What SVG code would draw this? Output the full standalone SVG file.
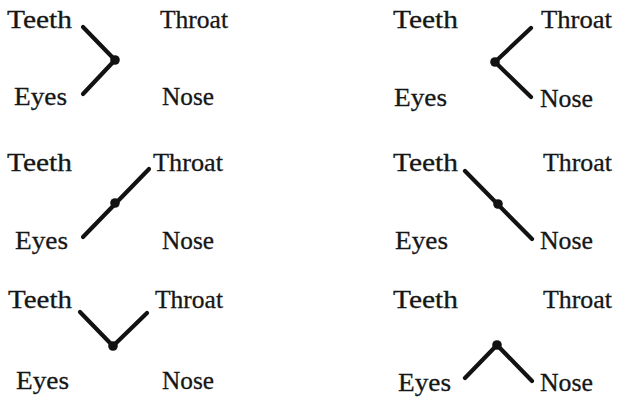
<svg xmlns="http://www.w3.org/2000/svg" width="620" height="399" viewBox="0 0 620 399">
<style>
.t{font-size:26px;fill:#161616;stroke:#161616;stroke-width:0.3}
.c{stroke:#121212;stroke-width:4.2;stroke-linecap:round;stroke-linejoin:round;fill:none}
.d{fill:#121212}
</style>
<rect width="620" height="399" fill="#fff"/>
<g font-family="Liberation Serif">
<g id="panel1">
<g id="p1-teeth"><text class="t" x="7" y="28" textLength="65" lengthAdjust="spacingAndGlyphs">Teeth</text></g>
<g id="p1-throat"><text class="t" x="160" y="28" textLength="68" lengthAdjust="spacingAndGlyphs">Throat</text></g>
<g id="p1-eyes"><text class="t" x="14" y="105" textLength="53" lengthAdjust="spacingAndGlyphs">Eyes</text></g>
<g id="p1-nose"><text class="t" x="162" y="105" textLength="52" lengthAdjust="spacingAndGlyphs">Nose</text></g>
<g id="p1-joint"><circle class="d" cx="115" cy="60" r="4.8"/></g>
</g>
<g id="panel2">
<g id="p2-teeth"><text class="t" x="393" y="28" textLength="65" lengthAdjust="spacingAndGlyphs">Teeth</text></g>
<g id="p2-throat"><text class="t" x="541" y="28" textLength="71" lengthAdjust="spacingAndGlyphs">Throat</text></g>
<g id="p2-eyes"><text class="t" x="394" y="106" textLength="53" lengthAdjust="spacingAndGlyphs">Eyes</text></g>
<g id="p2-nose"><text class="t" x="540" y="107" textLength="53" lengthAdjust="spacingAndGlyphs">Nose</text></g>
<g id="p2-joint"><circle class="d" cx="495" cy="62" r="4.8"/></g>
</g>
<g id="panel3">
<g id="p3-teeth"><text class="t" x="7" y="171" textLength="65" lengthAdjust="spacingAndGlyphs">Teeth</text></g>
<g id="p3-throat"><text class="t" x="153" y="171" textLength="70" lengthAdjust="spacingAndGlyphs">Throat</text></g>
<g id="p3-eyes"><text class="t" x="15" y="249" textLength="53" lengthAdjust="spacingAndGlyphs">Eyes</text></g>
<g id="p3-nose"><text class="t" x="162" y="249" textLength="52" lengthAdjust="spacingAndGlyphs">Nose</text></g>
<g id="p3-joint"><circle class="d" cx="115" cy="203" r="4.8"/></g>
</g>
<g id="panel4">
<g id="p4-teeth"><text class="t" x="393" y="171" textLength="65" lengthAdjust="spacingAndGlyphs">Teeth</text></g>
<g id="p4-throat"><text class="t" x="543" y="171" textLength="69" lengthAdjust="spacingAndGlyphs">Throat</text></g>
<g id="p4-eyes"><text class="t" x="395" y="249" textLength="53" lengthAdjust="spacingAndGlyphs">Eyes</text></g>
<g id="p4-nose"><text class="t" x="540" y="249" textLength="53" lengthAdjust="spacingAndGlyphs">Nose</text></g>
<g id="p4-joint"><circle class="d" cx="498" cy="204" r="4.8"/></g>
</g>
<g id="panel5">
<g id="p5-teeth"><text class="t" x="8" y="308" textLength="64" lengthAdjust="spacingAndGlyphs">Teeth</text></g>
<g id="p5-throat"><text class="t" x="155" y="308" textLength="68" lengthAdjust="spacingAndGlyphs">Throat</text></g>
<g id="p5-eyes"><text class="t" x="16" y="389" textLength="53" lengthAdjust="spacingAndGlyphs">Eyes</text></g>
<g id="p5-nose"><text class="t" x="162" y="389" textLength="52" lengthAdjust="spacingAndGlyphs">Nose</text></g>
<g id="p5-joint"><circle class="d" cx="113" cy="346" r="4.8"/></g>
</g>
<g id="panel6">
<g id="p6-teeth"><text class="t" x="393" y="308" textLength="65" lengthAdjust="spacingAndGlyphs">Teeth</text></g>
<g id="p6-throat"><text class="t" x="543" y="308" textLength="69" lengthAdjust="spacingAndGlyphs">Throat</text></g>
<g id="p6-eyes"><text class="t" x="398" y="391" textLength="53" lengthAdjust="spacingAndGlyphs">Eyes</text></g>
<g id="p6-nose"><text class="t" x="540" y="391" textLength="53" lengthAdjust="spacingAndGlyphs">Nose</text></g>
<g id="p6-joint"><circle class="d" cx="497" cy="345" r="4.8"/></g>
</g>
</g>
<g id="connectors">
<polyline class="c" points="83,27 115,60 83,94"/>
<polyline class="c" points="531,28 495,62 531,97"/>
<line class="c" x1="83" y1="237" x2="149" y2="169"/>
<line class="c" x1="465" y1="171" x2="532" y2="239"/>
<polyline class="c" points="80,312 113,346 147,313"/>
<polyline class="c" points="465,378 497,345 532,381"/>
</g>
</svg>
